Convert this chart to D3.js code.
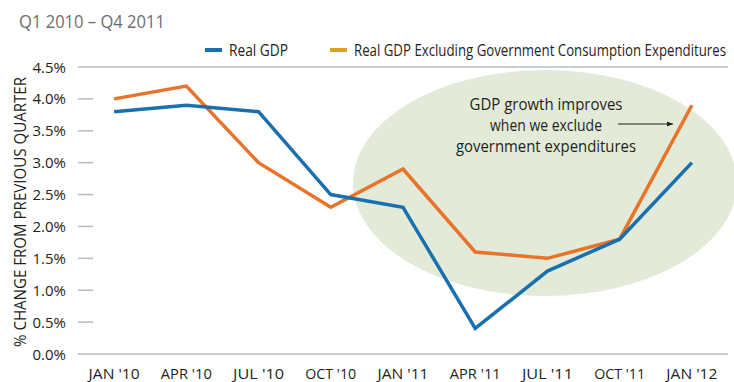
<!DOCTYPE html>
<html lang="en">
<head>
  <meta charset="utf-8">
  <title>Real GDP</title>
  <script src="https://cdn.jsdelivr.net/npm/d3@7"></script>
  <style>
    body { margin: 0; background: #fff; }
    text { font-family: "Open Sans", sans-serif; }
  </style>
</head>
<body>
<script>
  // quarters on the x axis
  var quarters = ["JAN '10", "APR '10", "JUL '10", "OCT '10", "JAN '11", "APR '11", "JUL '11", "OCT '11", "JAN '12"];
  var realGdp = [3.8, 3.9, 3.8, 2.5, 2.3, 0.4, 1.3, 1.8, 3.0];
  var realGdpExGov = [4.0, 4.2, 3.0, 2.3, 2.9, 1.6, 1.5, 1.8, 3.9];
  var yTicks = [0, 0.5, 1.0, 1.5, 2.0, 2.5, 3.0, 3.5, 4.0, 4.5];

  var w = 734, h = 382;
  var plotLeft = 78, plotRight = 728, plotTop = 67, plotBottom = 354;

  var svg = d3.select("body").append("svg")
    .attr("width", w)
    .attr("height", h);

  var xScale = d3.scalePoint()
    .domain(quarters)
    .range([plotLeft, plotRight])
    .padding(0.5);

  var yScale = d3.scaleLinear()
    .domain([0, 4.5])
    .range([plotBottom, plotTop]);

  // highlight ellipse
  svg.append("ellipse")
    .attr("cx", 545)
    .attr("cy", 183)
    .attr("rx", 192)
    .attr("ry", 113)
    .attr("fill", "#e3ebd8");

  // title
  svg.append("text")
    .attr("x", 19)
    .attr("y", 28)
    .attr("font-size", "18px")
    .attr("fill", "#6d6e71")
    .attr("textLength", 146)
    .attr("lengthAdjust", "spacingAndGlyphs")
    .text("Q1 2010 \u2013 Q4 2011");

  // y ticks: short dashes, full lines at top and bottom
  svg.append("g")
    .selectAll("line")
    .data(yTicks)
    .enter()
    .append("line")
    .attr("x1", plotLeft)
    .attr("x2", function (d) { return (d === 0 || d === 4.5) ? plotRight : plotLeft + 15; })
    .attr("y1", function (d) { return yScale(d); })
    .attr("y2", function (d) { return yScale(d); })
    .attr("stroke", "#b4bcc2")
    .attr("stroke-width", 1.5);

  // y tick labels
  svg.append("g")
    .selectAll("text")
    .data(yTicks)
    .enter()
    .append("text")
    .attr("x", 66)
    .attr("y", function (d) { return yScale(d) + 5.5; })
    .attr("text-anchor", "end")
    .attr("font-size", "15px")
    .attr("fill", "#231f20")
    .text(function (d) { return d.toFixed(1) + "%"; });

  // y axis title
  svg.append("text")
    .attr("transform", "rotate(-90)")
    .attr("x", -212)
    .attr("y", 26)
    .attr("text-anchor", "middle")
    .attr("font-size", "16px")
    .attr("fill", "#231f20")
    .attr("textLength", 270)
    .attr("lengthAdjust", "spacingAndGlyphs")
    .text("% CHANGE FROM PREVIOUS QUARTER");

  // x labels
  svg.append("g")
    .selectAll("text")
    .data(quarters)
    .enter()
    .append("text")
    .attr("x", function (d) { return xScale(d); })
    .attr("y", 379)
    .attr("text-anchor", "middle")
    .attr("font-size", "15px")
    .attr("fill", "#231f20")
    .attr("textLength", 51)
    .attr("lengthAdjust", "spacingAndGlyphs")
    .text(function (d) { return d; });

  var line = d3.line()
    .x(function (d, i) { return xScale(quarters[i]); })
    .y(function (d) { return yScale(d); });

  svg.append("path")
    .datum(realGdpExGov)
    .attr("d", line)
    .attr("fill", "none")
    .attr("stroke", "#e8732a")
    .attr("stroke-width", 3.5);

  svg.append("path")
    .datum(realGdp)
    .attr("d", line)
    .attr("fill", "none")
    .attr("stroke", "#1870ae")
    .attr("stroke-width", 3.5);

  // legend
  var legend = [
    { name: "Real GDP", color: "#1870ae", x: 205, len: 59 },
    { name: "Real GDP Excluding Government Consumption Expenditures", color: "#dba21e", x: 330, len: 372 }
  ];
  var lg = svg.append("g").selectAll("g")
    .data(legend)
    .enter()
    .append("g");
  lg.append("line")
    .attr("x1", function (d) { return d.x; })
    .attr("x2", function (d) { return d.x + 17; })
    .attr("y1", 50)
    .attr("y2", 50)
    .attr("stroke", function (d) { return d.color; })
    .attr("stroke-width", 4);
  lg.append("text")
    .attr("x", function (d) { return d.x + 24; })
    .attr("y", 56)
    .attr("font-size", "16px")
    .attr("fill", "#231f20")
    .attr("textLength", function (d) { return d.len; })
    .attr("lengthAdjust", "spacingAndGlyphs")
    .text(function (d) { return d.name; });

  // annotation
  var note = ["GDP growth improves", "when we exclude", "government expenditures"];
  var noteLen = [153, 112, 180];
  svg.append("g")
    .selectAll("text")
    .data(note)
    .enter()
    .append("text")
    .attr("x", 546)
    .attr("y", function (d, i) { return 110 + i * 21; })
    .attr("text-anchor", "middle")
    .attr("font-size", "17px")
    .attr("fill", "#231f20")
    .attr("textLength", function (d, i) { return noteLen[i]; })
    .attr("lengthAdjust", "spacingAndGlyphs")
    .text(function (d) { return d; });

  svg.append("defs").append("marker")
    .attr("id", "arrow")
    .attr("viewBox", "0 0 10 10")
    .attr("refX", 10)
    .attr("refY", 5)
    .attr("markerWidth", 6)
    .attr("markerHeight", 6)
    .attr("orient", "auto")
    .append("path")
    .attr("d", "M0,1 L10,5 L0,9 z")
    .attr("fill", "#231f20");

  svg.append("line")
    .attr("x1", 618)
    .attr("x2", 673)
    .attr("y1", 124)
    .attr("y2", 124)
    .attr("stroke", "#231f20")
    .attr("stroke-width", 1)
    .attr("marker-end", "url(#arrow)");
</script>
</body>
</html>
